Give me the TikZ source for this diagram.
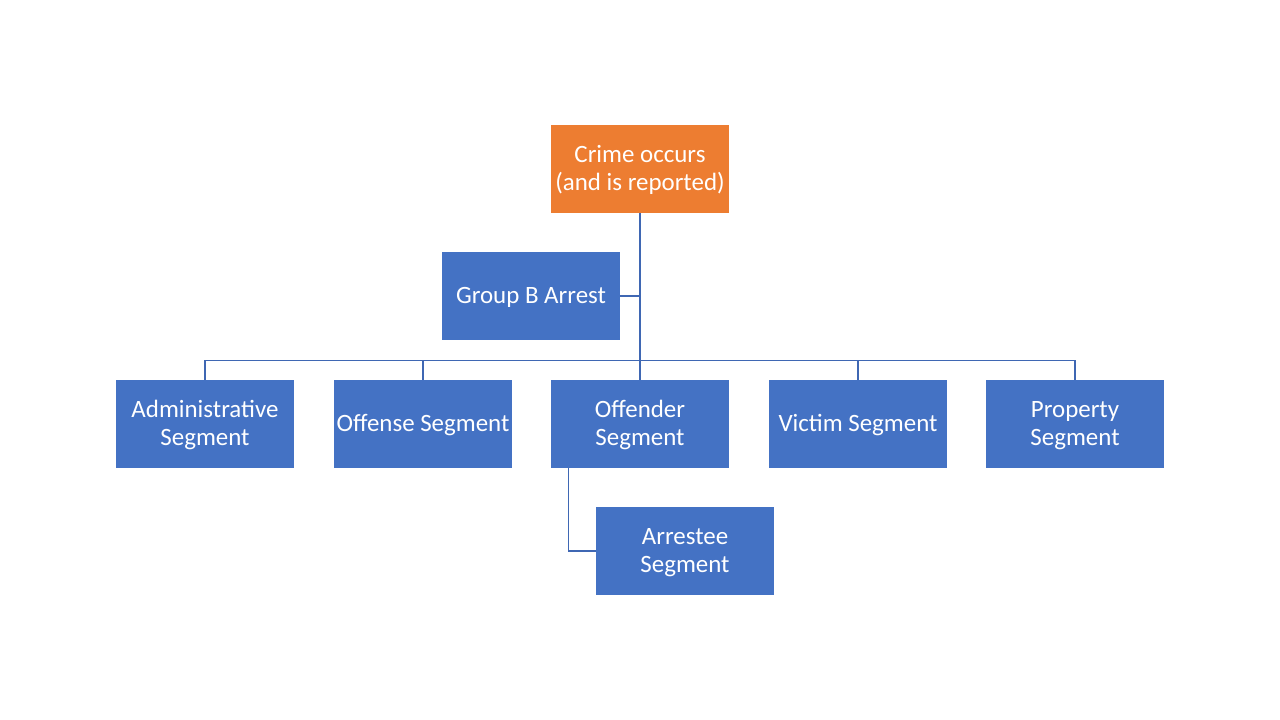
\documentclass[tikz,border=0pt]{standalone}
\usepackage{fontspec}
\setmainfont{Carlito}
\definecolor{boxblue}{HTML}{4472C4}
\definecolor{boxorange}{HTML}{ED7D31}
\definecolor{linkblue}{HTML}{3F67B3}
\newcommand{\lw}[1]{\raisebox{-1pt}[\height][\depth]{#1}}
\begin{document}
\begin{tikzpicture}[x=0.75pt,y=-0.75pt,
  seg/.style={fill=boxblue,text=white,minimum width=133.5pt,minimum height=66pt,
    inner sep=0pt,align=center,font=\fontsize{18.7pt}{21pt}\selectfont},
  link/.style={draw=linkblue,line width=0.9pt}]
\useasboundingbox (0,0) rectangle (1280,720);
\node[seg,fill=boxorange] (crime) at (640,169) {\lw{Crime occurs}\\\lw{(and is reported)}};
\node[seg] (groupb) at (531,296) {\lw{Group B Arrest}};
\node[seg] (admin) at (205,424) {\lw{Administrative}\\\lw{Segment}};
\node[seg] (offense) at (423,424) {\lw{Offense Segment}};
\node[seg] (offender) at (640,424) {\lw{Offender}\\\lw{Segment}};
\node[seg] (victim) at (858,424) {\lw{Victim Segment}};
\node[seg] (property) at (1075,424) {\lw{Property}\\\lw{Segment}};
\node[seg] (arrestee) at (685,551) {\lw{Arrestee}\\\lw{Segment}};
\coordinate (bus) at (640,360.5);
\coordinate (arrtap) at (568.5,468);
\draw[link] (crime.south) -- (offender.north);
\draw[link] (admin.north) |- (bus) -| (property.north);
\draw[link] (offense.north) -- (offense.north |- bus);
\draw[link] (victim.north) -- (victim.north |- bus);
\draw[link] (groupb.east) -- (groupb.east -| crime.south);
\draw[link] (arrtap) |- (arrestee.west);
\end{tikzpicture}
\end{document}
